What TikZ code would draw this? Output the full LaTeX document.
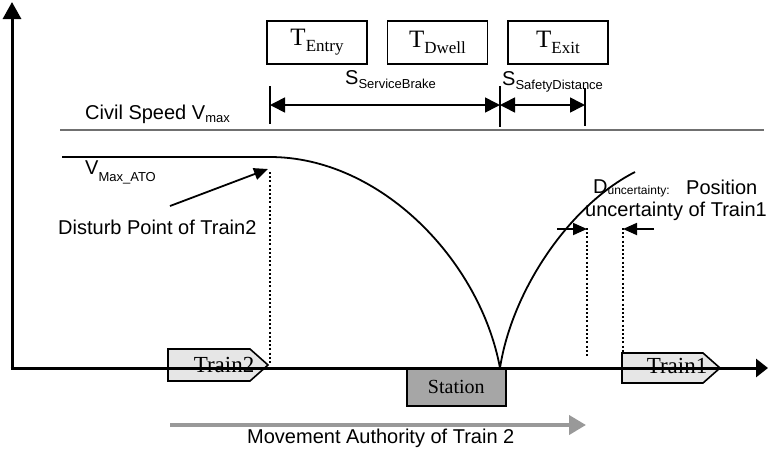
\documentclass[tikz,border=0pt]{standalone}
\usepackage{fontspec}
\setmainfont{Liberation Serif}
\newfontfamily\sansf{Liberation Sans}
\usetikzlibrary{arrows.meta}
\definecolor{civilgray}{HTML}{707070}
\definecolor{magray}{HTML}{999999}
\definecolor{trainfill}{HTML}{E6E6E6}
\definecolor{stationfill}{HTML}{A6A6A6}
\newcommand\mysub[3]{{\fontsize{#1}{#1}\selectfont\raisebox{-#2pt}{#3}}}
\begin{document}
\begin{tikzpicture}[x=1pt,y=-1pt,
  lbl/.style={font=\sansf\fontsize{20}{24}\selectfont, inner sep=0pt, anchor=base west},
  tbox/.style={draw, line width=1.6pt, minimum width=100pt, minimum height=43pt, inner sep=0pt, font=\fontsize{25}{25}\selectfont},
  axis/.style={line width=3pt, -{Triangle[length=17pt,width=18pt]}},
  curve/.style={line width=1.8pt},
  dimtick/.style={line width=1.6pt},
  dimarr/.style={line width=1.6pt, {Triangle[length=15pt,width=15pt]}-{Triangle[length=15pt,width=15pt]}},
  pointer/.style={line width=1.8pt, -{Triangle[length=14pt,width=12pt]}},
  dotline/.style={line width=2pt, dash pattern=on 2pt off 2.2pt},
  trainshape/.style={draw, line width=1.6pt, fill=trainfill},
  traintext/.style={font=\fontsize{23}{23}\selectfont, inner sep=0pt, anchor=base}
]
\useasboundingbox (0,0) rectangle (768,448);

% coordinates
\coordinate (yb) at (12,368);
\coordinate (yt) at (12,2);
\coordinate (xl) at (10.5,368);
\coordinate (xr) at (768,368);

% top boxes
\node[tbox] (tentry) at (317,42.5) {T\mysub{17}{6}{Entry}};
\node[tbox] (tdwell) at (437.5,42.5) {T\mysub{17}{6}{Dwell}};
\node[tbox] (texit) at (558,42.5) {T\mysub{17}{6}{Exit}};

% dimension lines
\coordinate (d1t) at (270,86); \coordinate (d1b) at (270,124);
\coordinate (d2t) at (500,86); \coordinate (d2b) at (500,127);
\coordinate (d3t) at (585,88); \coordinate (d3b) at (585,126);
\draw[dimtick] (d1t) -- (d1b);
\draw[dimtick] (d2t) -- (d2b);
\draw[dimtick] (d3t) -- (d3b);
\coordinate (a1) at (270,105); \coordinate (a2) at (500,105); \coordinate (a3) at (585,105);
\draw[dimarr] (a1) -- (a2);
\draw[dimarr] (a2) -- (a3);
\node[lbl] (ssb) at (345,84) {S\mysub{13}{4}{ServiceBrake}};
\node[lbl] (ssd) at (502,85) {S\mysub{13}{4}{SafetyDistance}};

% civil speed
\coordinate (cs1) at (60,130); \coordinate (cs2) at (764,130);
\draw[line width=1.8pt, civilgray] (cs1) -- (cs2);
\node[lbl] (civil) at (85,119) {Civil Speed V\mysub{13}{3}{max}};

% braking curves
\coordinate (vs) at (62,157);
\coordinate (dp) at (270,157);
\coordinate (st) at (500,368);
\coordinate (ce) at (635,172);
\draw[curve] (vs) -- (dp) .. controls (380,157) and (480,260) .. (st);
\draw[curve] (st) .. controls (512,290) and (570,205) .. (ce);
\node[lbl] (vato) at (85,174) {V\mysub{13}{7}{Max\_ATO}};

% disturb point
\coordinate (dps) at (170,206);
\coordinate (dpe) at (268,169);
\draw[pointer] (dps) -- (dpe);
\node[lbl] (disturb) at (58,234) {Disturb Point of Train2};
\coordinate (dot1t) at (270,172); \coordinate (dot1b) at (270,363);
\draw[dotline] (dot1t) -- (dot1b);

% uncertainty
\node[lbl] (dunc) at (593,193) {D\mysub{12}{1}{uncertainty:}};
\node[lbl] (pos) at (686,194) {Position};
\node[lbl] (unc) at (585,216) {uncertainty of Train1};
\coordinate (dot2t) at (587,228); \coordinate (dot2b) at (587,356);
\coordinate (dot3t) at (623,228); \coordinate (dot3b) at (623,352);
\draw[dotline] (dot2t) -- (dot2b);
\draw[dotline] (dot3t) -- (dot3b);
\coordinate (u1s) at (557,229); \coordinate (u2s) at (654,229);
\draw[pointer] (u1s) -- (dot2t |- u1s);
\draw[pointer] (u2s) -- (dot3t |- u2s);

% trains and station
\draw[trainshape] (168,349) -- (250,349) -- (268,365) -- (250,381) -- (168,381) -- cycle;
\node[traintext] (train2) at (224,372) {Train2};
\draw[trainshape] (622,353) -- (703,353) -- (720,368) -- (703,383) -- (622,383) -- cycle;
\node[traintext] (train1) at (677,373) {Train1};
\node[draw, line width=1.6pt, fill=stationfill, minimum width=99pt, minimum height=37pt, inner sep=0pt, anchor=north west, font=\fontsize{20}{20}\selectfont] (station) at (406,368) {Station};

% axes
\draw[axis] (yb) -- (yt);
\draw[line width=3pt, -{Triangle[length=12pt,width=18pt]}] (xl) -- (xr);

% movement authority
\coordinate (ma1) at (170,425); \coordinate (ma2) at (586,425);
\draw[magray, line width=4pt, -{Triangle[length=17pt,width=19pt]}] (ma1) -- (ma2);
\node[lbl] (ma) at (247,443) {Movement Authority of Train 2};
\end{tikzpicture}
\end{document}
